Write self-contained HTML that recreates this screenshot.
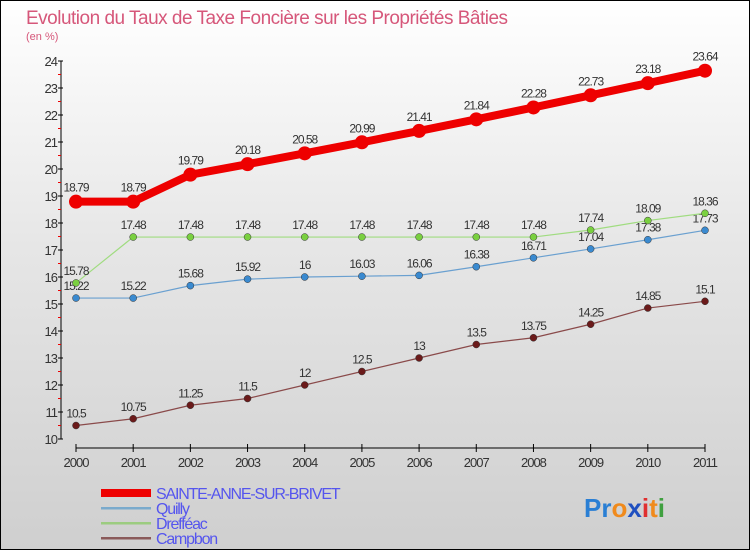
<!DOCTYPE html>
<html><head><meta charset="utf-8"><style>
body{margin:0;width:750px;height:550px;overflow:hidden;font-family:"Liberation Sans",sans-serif}
#wrap{position:relative;width:748px;height:548px;border:1px solid #000;background:linear-gradient(#fff 0%,#e6e6e6 45%,#cfcfcf 100%)}
</style></head><body>
<div id="wrap">
<svg id="chart" width="748" height="548" style="position:absolute;left:0;top:0">
<text x="25" y="23" font-size="19" fill="#d6577a" style="letter-spacing:-0.5px">Evolution du Taux de Taxe Foncière sur les Propriétés Bâties</text>
<text x="25" y="39" font-size="11" fill="#d6577a">(en %)</text>
<g id="axes"></g><g id="series"></g><g id="legend"></g>
<text x="583" y="516" font-size="26" font-weight="bold"><tspan fill="#2a7fd4">Pr</tspan><tspan fill="#f08a1c">o</tspan><tspan fill="#2050c0">x</tspan><tspan fill="#e03030">i</tspan><tspan fill="#f08a1c">t</tspan><tspan fill="#40a040">i</tspan></text>
</svg>
</div>
<script>
const years=[2000,2001,2002,2003,2004,2005,2006,2007,2008,2009,2010,2011];
const sainteAnne=[18.79,18.79,19.79,20.18,20.58,20.99,21.41,21.84,22.28,22.73,23.18,23.64];
const quilly=[15.22,15.22,15.68,15.92,16,16.03,16.06,16.38,16.71,17.04,17.38,17.73];
const dreffeac=[15.78,17.48,17.48,17.48,17.48,17.48,17.48,17.48,17.48,17.74,18.09,18.36];
const campbon=[10.5,10.75,11.25,11.5,12,12.5,13,13.5,13.75,14.25,14.85,15.1];
const yTicks=[10,11,12,13,14,15,16,17,18,19,20,21,22,23,24];
const seriesNames=["SAINTE-ANNE-SUR-BRIVET","Quilly","Drefféac","Campbon"];
const NS="http://www.w3.org/2000/svg";
const x=i=>75+i*(704-75)/11;
const y=v=>438-(v-10)*(438-60)/14;
function mk(tag,attrs,parent){const e=document.createElementNS(NS,tag);for(const k in attrs)e.setAttribute(k,attrs[k]);parent.appendChild(e);return e;}
const ax=document.getElementById('axes');
let l=mk('line',{x1:60,y1:y(24),x2:60,y2:y(10),stroke:'#000'},ax);


yTicks.forEach(v=>{
 mk('line',{x1:57,x2:62,y1:y(v),y2:y(v),stroke:'#000'},ax);
 if(v<24){mk('line',{x1:57,x2:60,y1:y(v+0.5),y2:y(v+0.5),stroke:'#e00'},ax);}
 const t=mk('text',{x:56,y:y(v)+5,'font-size':13,'text-anchor':'end',fill:'#333','letter-spacing':'-1'},ax);
 t.textContent=v;
 
 
});
const xa=mk('line',{x1:x(0),x2:x(11),y1:447,y2:447,stroke:'#000'},ax);


years.forEach((yr,i)=>{
 mk('line',{x1:x(i),x2:x(i),y1:443,y2:451,stroke:'#000'},ax);
 const t=mk('text',{x:x(i),y:466,'font-size':13,'text-anchor':'middle',fill:'#333','letter-spacing':'-1'},ax);
 t.textContent=yr;
 
 
});
const sg=document.getElementById('series');
const defs=[
 {d:campbon,c:'#6b1a1a',lc:'#8a4a4a',w:1.2,r:3.5,n:'campbon'},
 {d:quilly,c:'#3a8ad0',lc:'#6aa0d0',w:1.2,r:3.5,n:'quilly'},
 {d:dreffeac,c:'#7ad040',lc:'#a0dc80',w:1.2,r:3.5,n:'dreffeac'},
 {d:sainteAnne,c:'#ee0000',lc:'#ee0000',w:8,r:7,n:'sainte-anne'}
];
defs.forEach(s=>{
 const p=mk('polyline',{points:s.d.map((v,i)=>x(i)+','+y(v)).join(' '),fill:'none',stroke:s.lc,'stroke-width':s.w},sg);
 
 
 s.d.forEach((v,i)=>{
  const c=mk('circle',{cx:x(i),cy:y(v),r:s.r,fill:s.c,stroke:s.w>2?'none':'#333','stroke-width':0.5},sg);
  
  
  const t=mk('text',{x:x(i),y:y(v)-(s.w>2?10:8),'font-size':12,'text-anchor':'middle',fill:'#333','letter-spacing':'-1'},sg);
  t.textContent=v;
  
  
 });
});
const lg=document.getElementById('legend');
const lcols=['#ee0000','#7aaacc','#9ccc80','#8a5a5a'];
seriesNames.forEach((n,i)=>{
 const yy=492+i*15;
 const r=mk('rect',{x:100,y:yy-(i==0?4:1),width:50,height:i==0?8:2.5,fill:lcols[i]},lg);
 
 
 const t=mk('text',{x:155,y:yy+6,'font-size':16,fill:'#5555ee','letter-spacing':'-1.2'},lg);
 t.textContent=n;
 
 
});
</script>
</body></html>
